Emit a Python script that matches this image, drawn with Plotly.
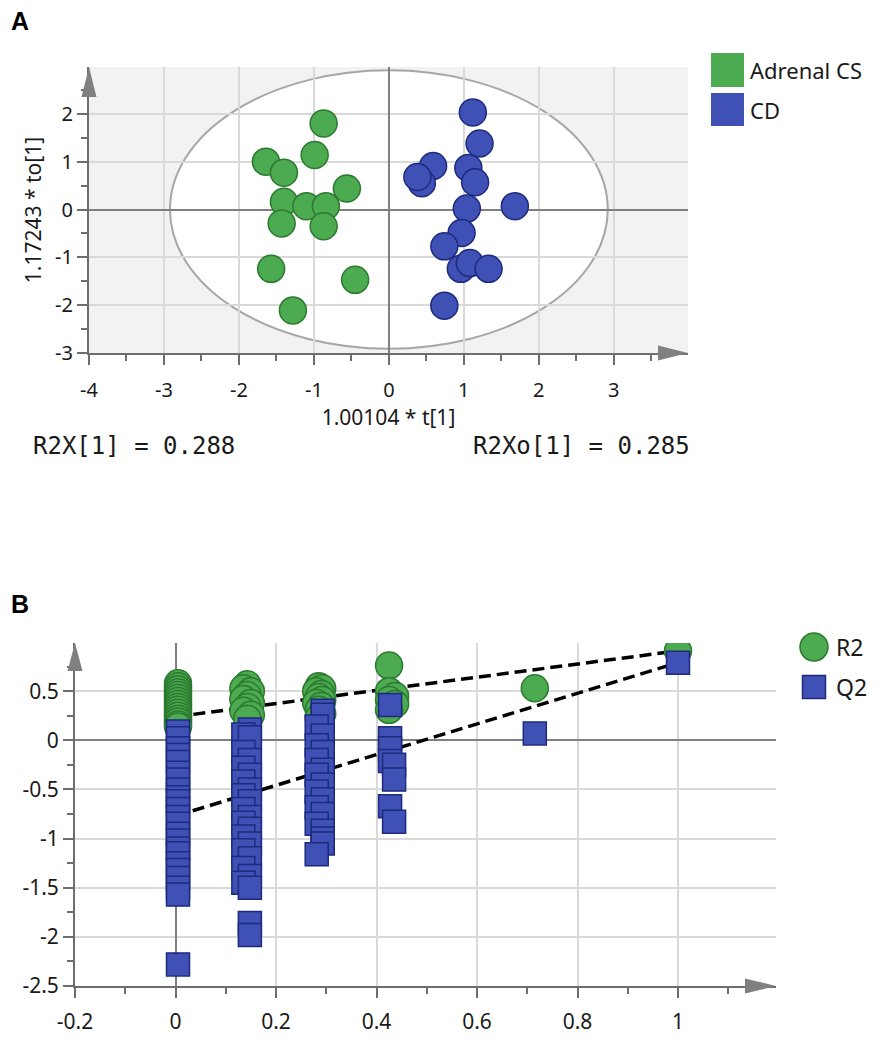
import plotly.graph_objects as go

# ---- panel A: OPLS-DA score plot ----
cs_t = [-0.87, -0.99, -1.64, -1.40, -0.56, -1.40, -1.10, -0.84, -1.43, -0.87, -1.57, -0.45, -1.28]
cs_to = [1.80, 1.14, 1.00, 0.77, 0.44, 0.16, 0.07, 0.07, -0.29, -0.35, -1.24, -1.47, -2.11]
cd_t = [1.12, 1.21, 0.59, 0.44, 0.38, 1.06, 1.15, 1.04, 1.68, 0.97, 0.74, 0.96, 1.08, 1.33, 0.74]
cd_to = [2.03, 1.38, 0.91, 0.55, 0.68, 0.87, 0.57, 0.02, 0.07, -0.49, -0.77, -1.24, -1.12, -1.24, -2.01]
t2_radius_t = 2.92
t2_radius_to = 2.91
r2x_text = "R2X[1] = 0.288"
r2xo_text = "R2Xo[1] = 0.285"
a_xticks = [-4, -3, -2, -1, 0, 1, 2, 3]
a_yticks = [-3, -2, -1, 0, 1, 2]

# ---- panel B: permutation test ----
r2_x = [0.005] * 16 + [0.143, 0.135, 0.15, 0.143, 0.135, 0.15, 0.143, 0.135, 0.15, 0.143] \
    + [0.285, 0.292, 0.28, 0.29, 0.285, 0.292, 0.28, 0.29, 0.285, 0.292, 0.285] \
    + [0.425, 0.425, 0.437, 0.425, 0.437, 0.425] + [0.715, 1.0]
r2_y = [0.58, 0.55, 0.52, 0.49, 0.46, 0.43, 0.40, 0.37, 0.34, 0.31, 0.28, 0.25, 0.22, 0.19, 0.16, 0.14] \
    + [0.57, 0.53, 0.50, 0.46, 0.42, 0.38, 0.34, 0.30, 0.26, 0.22] \
    + [0.55, 0.53, 0.50, 0.47, 0.44, 0.41, 0.38, 0.35, 0.31, 0.27, 0.23] \
    + [0.76, 0.50, 0.45, 0.41, 0.37, 0.31] + [0.53, 0.91]
q2_x = [0.005] * 23 \
    + [0.148, 0.135, 0.148, 0.135, 0.148, 0.135, 0.148, 0.135, 0.148, 0.135, 0.148, 0.135, 0.148,
       0.135, 0.148, 0.135, 0.148, 0.135, 0.148, 0.135, 0.148, 0.135, 0.148, 0.148, 0.148] \
    + [0.293, 0.293, 0.281, 0.293, 0.281, 0.293, 0.281, 0.293, 0.281, 0.293, 0.281, 0.293, 0.281,
       0.293, 0.281, 0.293, 0.293, 0.293, 0.281] \
    + [0.427, 0.427, 0.427, 0.427, 0.435, 0.435, 0.427, 0.435] + [0.715, 1.0]
q2_y = [0.09, 0.02, -0.08, -0.15, -0.22, -0.33, -0.40, -0.50, -0.58, -0.62, -0.70, -0.78, -0.85,
        -0.95, -1.02, -1.10, -1.15, -1.25, -1.32, -1.40, -1.50, -1.57, -2.28] \
    + [0.11, 0.06, 0.03, -0.12, -0.20, -0.28, -0.35, -0.42, -0.50, -0.56, -0.62, -0.70, -0.78,
       -0.84, -0.90, -0.98, -1.05, -1.12, -1.20, -1.30, -1.38, -1.45, -1.50, -1.86, -1.98] \
    + [0.30, 0.26, 0.14, 0.05, -0.05, -0.12, -0.20, -0.30, -0.35, -0.45, -0.52, -0.60, -0.68,
       -0.75, -0.85, -0.92, -1.00, -1.05, -1.16] \
    + [0.36, 0.02, -0.08, -0.21, -0.25, -0.40, -0.67, -0.83] + [0.07, 0.79]
perm_line_x = [0, 1]
r2_line_y = [0.24, 0.91]
q2_line_y = [-0.77, 0.79]
b_xticks = [-0.2, 0, 0.2, 0.4, 0.6, 0.8, 1]
b_yticks = [-2.5, -2, -1.5, -1, -0.5, 0, 0.5]

GREEN, GREEN_LINE = "#4caa50", "#2b7a2f"
BLUE, BLUE_LINE = "#3f51b5", "#1e2a7e"
AXIS = "#6e6e6e"
FONT = "Noto Sans"
W, H = 870, 1035
PAGE_PAD = 8  # default body margin of the html page

# plot areas in page pixels (left, right, top, bottom)
A_BOX = (89, 688, 67, 353)
B_BOX = (75, 776, 643, 986)


def px_x(p):
    return (p - PAGE_PAD) / W


def px_y(p):
    return 1 - (p - PAGE_PAD) / H


def fmt(v):
    return ("%g" % v)


fig = go.Figure()

fig.add_trace(go.Scatter(x=cs_t, y=cs_to, mode="markers", name="Adrenal CS",
                         marker=dict(size=27, color=GREEN, line=dict(color=GREEN_LINE, width=1.5)),
                         xaxis="x", yaxis="y"))
fig.add_trace(go.Scatter(x=cd_t, y=cd_to, mode="markers", name="CD",
                         marker=dict(size=27, color=BLUE, line=dict(color=BLUE_LINE, width=1.5)),
                         xaxis="x", yaxis="y"))

fig.add_trace(go.Scatter(x=perm_line_x, y=r2_line_y, mode="lines", showlegend=False,
                         line=dict(color="black", width=3.5, dash="12px,6px"), xaxis="x2", yaxis="y2"))
fig.add_trace(go.Scatter(x=perm_line_x, y=q2_line_y, mode="lines", showlegend=False,
                         line=dict(color="black", width=3.5, dash="12px,6px"), xaxis="x2", yaxis="y2"))
fig.add_trace(go.Scatter(x=r2_x, y=r2_y, mode="markers", name="R2",
                         marker=dict(size=27, color=GREEN, line=dict(color=GREEN_LINE, width=1.5)),
                         xaxis="x2", yaxis="y2"))
fig.add_trace(go.Scatter(x=q2_x, y=q2_y, mode="markers", name="Q2",
                         marker=dict(size=23, symbol="square", color=BLUE, line=dict(color=BLUE_LINE, width=1.5)),
                         xaxis="x2", yaxis="y2"))


def axis_style(ticks, minor_dtick, tickfont, rng):
    return dict(range=rng, tickmode="array", tickvals=ticks, ticktext=[fmt(t) for t in ticks],
                automargin=False,
                showgrid=True, gridcolor="#d9d9d9", gridwidth=1.5,
                zeroline=True, zerolinecolor="#7f7f7f", zerolinewidth=1.5,
                showline=True, linecolor=AXIS, linewidth=2,
                ticks="outside", ticklen=10, tickwidth=1.5, tickcolor=AXIS,
                minor=dict(tickmode="linear", tick0=0, dtick=minor_dtick, ticks="outside",
                           ticklen=6, tickwidth=1.5, tickcolor=AXIS, showgrid=False),
                tickfont=dict(family=FONT, size=tickfont, color="#1a1a1a"),
                fixedrange=True)


xa = axis_style(a_xticks, 0.5, 20, [-4, 3.99])
xa.update(domain=[px_x(A_BOX[0]), px_x(A_BOX[1])], anchor="y", ticklabelstandoff=8,
          title=dict(text="1.00104 * t[1]", font=dict(family=FONT, size=21, color="#1a1a1a"), standoff=6))
ya = axis_style(a_yticks, 0.5, 20, [-3, 2.98])
ya.update(domain=[px_y(A_BOX[3]), px_y(A_BOX[2])], anchor="x",
          title=dict(text="1.17243 * to[1]", font=dict(family=FONT, size=21, color="#1a1a1a"), standoff=8))
xb = axis_style(b_xticks, 0.1, 21, [-0.2, 1.195])
xb.update(domain=[px_x(B_BOX[0]), px_x(B_BOX[1])], anchor="y2", ticklabelstandoff=6)
yb = axis_style(b_yticks, 0.25, 21, [-2.5, 0.99])
yb.update(domain=[px_y(B_BOX[3]), px_y(B_BOX[2])], anchor="x2")


def arrow_up(box, half=7.5, length=30):
    x, y = box[0], box[2]
    return "M%g,%g L%g,%g L%g,%g Z" % (px_x(x - half), px_y(y + length), px_x(x + half), px_y(y + length),
                                        px_x(x), px_y(y))


def arrow_right(box, half=7.5, length=30):
    x, y = box[1], box[3]
    return "M%g,%g L%g,%g L%g,%g Z" % (px_x(x - length), px_y(y - half), px_x(x - length), px_y(y + half),
                                        px_x(x), px_y(y))


def arrow(path):
    return dict(type="path", xref="paper", yref="paper", path=path, fillcolor="#808080",
                line=dict(width=0), layer="above")


shapes = [
    dict(type="rect", xref="x2 domain", yref="y2 domain", x0=0, x1=1, y0=0, y1=1,
         fillcolor="white", line=dict(width=0), layer="below"),
    dict(type="circle", xref="x", yref="y", x0=-t2_radius_t, x1=t2_radius_t,
         y0=-t2_radius_to, y1=t2_radius_to, fillcolor="white",
         line=dict(color="#a6a6a6", width=2), layer="below"),
    arrow(arrow_up(A_BOX)),
    arrow(arrow_right(A_BOX)),
    arrow(arrow_up(B_BOX, length=28)),
    arrow(arrow_right(B_BOX, length=31)),
    # legend A
    dict(type="rect", xref="paper", yref="paper", x0=px_x(711), x1=px_x(744), y0=px_y(87), y1=px_y(53),
         fillcolor=GREEN, line=dict(width=0)),
    dict(type="rect", xref="paper", yref="paper", x0=px_x(711), x1=px_x(744), y0=px_y(126), y1=px_y(93),
         fillcolor=BLUE, line=dict(width=0)),
    # legend B
    dict(type="circle", xref="paper", yref="paper", x0=px_x(800), x1=px_x(828), y0=px_y(661), y1=px_y(633),
         fillcolor=GREEN, line=dict(color=GREEN_LINE, width=1.5)),
    dict(type="rect", xref="paper", yref="paper", x0=px_x(802.5), x1=px_x(825.5), y0=px_y(698.5), y1=px_y(675.5),
         fillcolor=BLUE, line=dict(color=BLUE_LINE, width=1.5)),
]

txt = dict(family=FONT, color="#1a1a1a")
annotations = [
    dict(text="<b>A</b>", x=px_x(9), y=px_y(21), xanchor="left", yanchor="middle",
         font=dict(family="Liberation Sans", size=25, color="black")),
    dict(text="<b>B</b>", x=px_x(9), y=px_y(604), xanchor="left", yanchor="middle",
         font=dict(family="Liberation Sans", size=25, color="black")),
    dict(text=r2x_text, x=px_x(31), y=px_y(446), xanchor="left", yanchor="middle",
         font=dict(family="DejaVu Sans Mono", size=24, color="#1a1a1a")),
    dict(text=r2xo_text, x=px_x(692), y=px_y(446), xanchor="right", yanchor="middle",
         font=dict(family="DejaVu Sans Mono", size=24, color="#1a1a1a")),
    dict(text="Adrenal CS", x=px_x(748), y=px_y(70), xanchor="left", yanchor="middle", font=dict(size=22, **txt)),
    dict(text="CD", x=px_x(748), y=px_y(110), xanchor="left", yanchor="middle", font=dict(size=22, **txt)),
    dict(text="R2", x=px_x(834), y=px_y(647), xanchor="left", yanchor="middle", font=dict(size=23, **txt)),
    dict(text="Q2", x=px_x(834), y=px_y(687), xanchor="left", yanchor="middle", font=dict(size=23, **txt)),
]
for a in annotations:
    a.update(xref="paper", yref="paper", showarrow=False)

fig.update_layout(width=W, height=H, autosize=False, margin=dict(l=0, r=0, t=0, b=0),
                  paper_bgcolor="white", plot_bgcolor="#f2f2f2", showlegend=False,
                  xaxis=xa, yaxis=ya, xaxis2=xb, yaxis2=yb,
                  shapes=shapes, annotations=annotations, font=dict(family=FONT))

fig.write_html("out.html")
